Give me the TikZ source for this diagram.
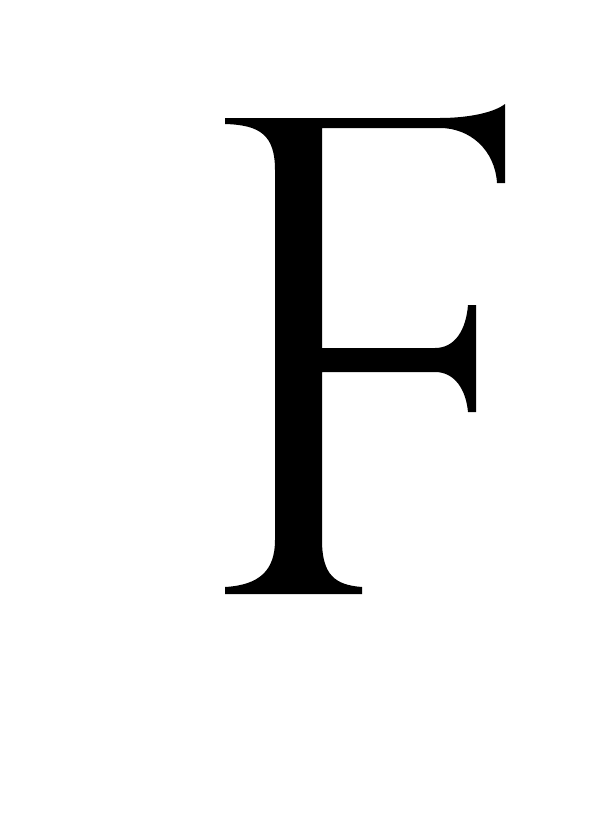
\documentclass[tikz,border=0pt]{standalone}
\usepackage{tikz}
\begin{document}
\begin{tikzpicture}[x=1pt, y=-1pt,
        glyph_style/.style={fill=black, draw=none}]

        \useasboundingbox (0,0) rectangle (600,816);

        % letter outline
        \fill [glyph_style] (225,118) -- (440,118)
            .. controls (470,118) and (495,112) .. (505,104) -- (505,183) -- (497,183)
            .. controls (495,150) and (470,128) .. (440,128) -- (322,128) -- (322,348) -- (435,348)
            .. controls (455,348) and (466,330) .. (468,305) -- (476,305) -- (476,412) -- (468,412)
            .. controls (466,390) and (455,372) .. (435,372) -- (322,372) -- (322,540)
            .. controls (322,575) and (335,585) .. (362,587) -- (362,594) -- (225,594) -- (225,587)
            .. controls (260,585) and (275,570) .. (275,540) -- (275,170)
            .. controls (275,135) and (260,125) .. (225,124) -- cycle;

\end{tikzpicture}
\end{document}
